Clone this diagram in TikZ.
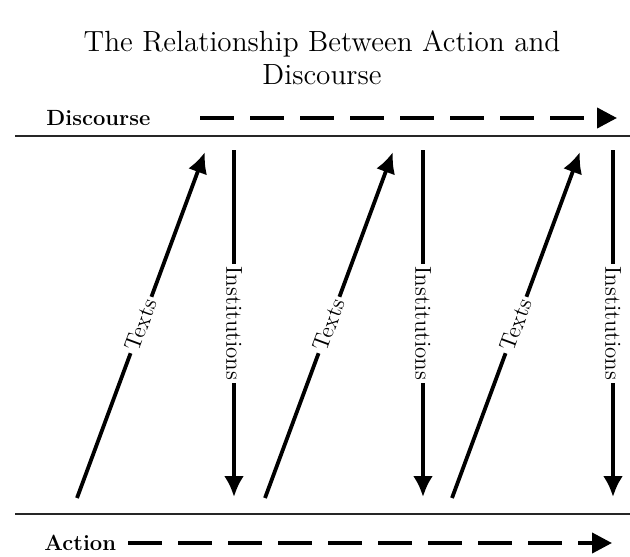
\documentclass[tikz,border=0pt]{standalone}
\usetikzlibrary{arrows.meta}
\begin{document}
\begin{tikzpicture}[x=0.5pt,y=-0.5pt,
    rule/.style={line width=1.2pt,black!85},
    link/.style={line width=1.9pt,-{Latex[length=10.5pt,width=10pt]}},
    flow/.style={line width=2pt,dash pattern=on 17pt off 8pt,-{Triangle[length=10pt,width=10pt]}},
    lab/.style={font=\fontsize{11.5}{13}\selectfont,fill=white,inner sep=1.5pt},
    side/.style={font=\fontsize{11}{12}\selectfont\bfseries,anchor=base west,inner sep=0pt}]
    \useasboundingbox (0,0) rectangle (630,556);
    \node[align=center,anchor=north,inner sep=0pt,font=\fontsize{14.6}{16.5}\selectfont] (title) at (322,30) {The Relationship Between Action and\\Discourse};
    \node[side] (disc) at (46,125) {Discourse};
    \node[side] (act) at (44,550) {Action};
    \coordinate (d0) at (200,118);
    \coordinate (d1) at (617,118);
    \coordinate (a0) at (128,543);
    \coordinate (a1) at (612,543);
    \coordinate (r0) at (15,136);
    \coordinate (r1) at (630,136);
    \coordinate (r2) at (15,514);
    \coordinate (r3) at (630,514);
    \draw[flow] (d0) -- (d1);
    \draw[flow] (a0) -- (a1);
    \draw[rule] (r0) -- (r1);
    \draw[rule] (r2) -- (r3);
    \foreach \i/\x/\y in {1/0/0, 2/188/189, 3/375/379} {
        \coordinate (t\i) at (77+\x,498);
        \coordinate (u\i) at (205+\x,152);
        \coordinate (s\i) at (234+\y,150);
        \coordinate (e\i) at (234+\y,497);
        \draw[link] (t\i) -- node[lab,sloped] (tx\i) {Texts} (u\i);
        \draw[link] (s\i) -- node[lab,rotate=-90] (in\i) {Institutions} (e\i);
    }
\end{tikzpicture}
\end{document}
